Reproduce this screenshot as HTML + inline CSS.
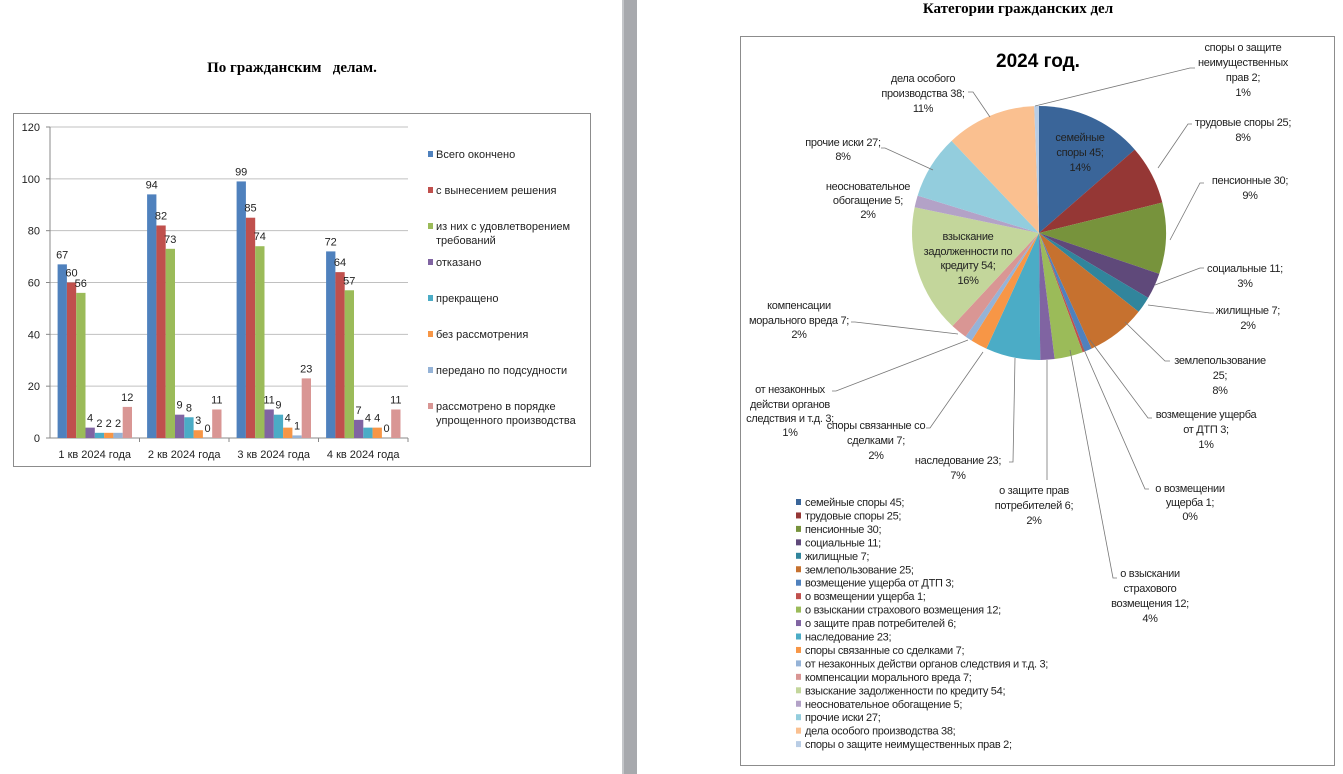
<!DOCTYPE html>
<html><head><meta charset="utf-8"><style>
html,body{margin:0;padding:0;background:#fff;width:1343px;height:774px;overflow:hidden}
svg{display:block}
text{font-family:"Liberation Sans","DejaVu Sans",sans-serif;font-size:11px;fill:#222}
.t{font-family:"Liberation Serif",serif;font-weight:bold;font-size:15px;fill:#000;white-space:pre}
.pl{font-size:11px;letter-spacing:-0.3px}
</style></head><body>
<svg id="s" width="1343" height="774" viewBox="0 0 1343 774" xmlns="http://www.w3.org/2000/svg">
<rect x="622" y="0" width="15" height="774" fill="#a7a9ad"/>
<rect x="622" y="0" width="2" height="774" fill="#c4c6c9"/>
<text class="t" x="292" y="72" text-anchor="middle" xml:space="preserve">По гражданским   делам.</text>
<text class="t" x="1018" y="13" text-anchor="middle">Категории гражданских дел</text>
<rect x="13.5" y="113.5" width="577" height="353" fill="#fff" stroke="#8c8c8c"/>
<g id="bars"></g>
<rect x="740.5" y="36.5" width="594" height="729" fill="#fff" stroke="#8c8c8c"/>
<text x="1038" y="67" text-anchor="middle" style="font-size:19px;font-weight:bold;fill:#000">2024 год.</text>
<g id="pie"></g>
<g id="pl" stroke="#777" stroke-width="0.8" fill="none">
<polyline points="1035,106 1190,68 1195,68"/>
<polyline points="990,117 973,92 968,92"/>
<polyline points="1158,168 1188,124 1192,124"/>
<polyline points="1170,240 1200,183 1204,183"/>
<polyline points="1155,285 1200,268 1204,268"/>
<polyline points="1148,305 1210,313 1214,313"/>
<polyline points="1125,322 1165,361 1170,361"/>
<polyline points="1090,340 1148,418 1152,418"/>
<polyline points="1082,345 1145,489 1149,489"/>
<polyline points="1070,350 1113,578 1117,578"/>
<polyline points="1047,360 1047,480"/>
<polyline points="1015,358 1013,462 1009,462"/>
<polyline points="983,352 930,428 926,428"/>
<polyline points="968,340 836,391 832,391"/>
<polyline points="958,334 855,322 851,322"/>
<polyline points="933,170 885,148 881,148"/>
</g>
<g id="labs" text-anchor="middle" class="pl"></g>
<g id="leg"></g>
</svg>
<script>
var NS="http://www.w3.org/2000/svg";
function el(p,t,a,txt){var e=document.createElementNS(NS,t);for(var k in a)e.setAttribute(k,a[k]);if(txt!=null)e.textContent=txt;p.appendChild(e);return e;}
var g=document.getElementById('bars');
function Y(v){return 438-v*311/120;}
for(var v=0;v<=120;v+=20){
  if(v>0)el(g,'line',{x1:50,x2:408,y1:Y(v),y2:Y(v),stroke:'#c0c0c0','stroke-width':1});
  el(g,'text',{x:40,y:Y(v)+4,'text-anchor':'end'},String(v));
  el(g,'line',{x1:46,x2:50,y1:Y(v),y2:Y(v),stroke:'#888'});
}
el(g,'line',{x1:50,x2:50,y1:Y(120),y2:438,stroke:'#888'});
el(g,'line',{x1:50,x2:408,y1:438,y2:438,stroke:'#888'});
var bc=['#4F81BD','#C0504D','#9BBB59','#8064A2','#4BACC6','#F79646','#95B3D7','#D99694'];
var data=[[67,60,56,4,2,2,2,12],[94,82,73,9,8,3,0,11],[99,85,74,11,9,4,1,23],[72,64,57,7,4,4,0,11]];
var gl=['1 кв 2024 года','2 кв 2024 года','3 кв 2024 года','4 кв 2024 года'];
for(var i=0;i<4;i++){
  var gx=50+i*89.5;
  el(g,'line',{x1:gx+89.5,x2:gx+89.5,y1:438,y2:442,stroke:'#888'});
  el(g,'text',{x:gx+44.7,y:458,'text-anchor':'middle'},gl[i]);
  for(var j=0;j<8;j++){
    var x=gx+7.6+j*9.3,v=data[i][j];
    if(v>0)el(g,'rect',{x:x,y:Y(v),width:9.3,height:438-Y(v),fill:bc[j]});
    el(g,'text',{x:x+4.6,y:Y(v)-6,'text-anchor':'middle'},String(v));
  }
}
var lg=[['Всего окончено'],['с вынесением решения'],['из них с удовлетворением','требований'],['отказано'],['прекращено'],['без рассмотрения'],['передано по подсудности'],['рассмотрено в порядке','упрощенного производства']];
var ly=[158,194,230,266,302,338,374,410];
for(var i=0;i<8;i++){
  el(g,'rect',{x:428,y:ly[i]-7,width:5,height:6,fill:bc[i]});
  for(var k=0;k<lg[i].length;k++)el(g,'text',{x:436,y:ly[i]+k*14},lg[i][k]);
}
var pv=[45,25,30,11,7,25,3,1,12,6,23,7,3,7,54,5,27,38,2];
var pc=['#3A6599','#953735','#77933C','#5F497A','#31859C','#C6712F','#4F81BD','#C0504D','#9BBB59','#8064A2','#4BACC6','#F79646','#95B3D7','#D99694','#C3D69B','#B3A2C7','#93CDDD','#FAC090','#B9CDE5'];
var pn=['семейные споры 45;','трудовые споры 25;','пенсионные 30;','социальные 11;','жилищные 7;','землепользование 25;','возмещение ущерба от ДТП 3;','о возмещении ущерба  1;','о взыскании страхового возмещения 12;','о защите прав потребителей 6;','наследование 23;','споры связанные со сделками 7;','от незаконных действи  органов следствия и т.д. 3;','компенсации морального вреда 7;','взыскание задолженности по кредиту 54;','неосновательное обогащение 5;','прочие иски 27;','дела особого производства 38;','споры о защите неимущественных прав 2;'];
var tot=0;pv.forEach(function(v){tot+=v;});
var pg=document.getElementById('pie'),cx=1039,cy=233,r=127,a=-Math.PI/2;
for(var i=0;i<pv.length;i++){
  var b=a+pv[i]/tot*2*Math.PI;
  var x1=cx+r*Math.cos(a),y1=cy+r*Math.sin(a),x2=cx+r*Math.cos(b),y2=cy+r*Math.sin(b);
  el(pg,'path',{d:'M'+cx+','+cy+' L'+x1+','+y1+' A'+r+','+r+' 0 '+((b-a)>Math.PI?1:0)+',1 '+x2+','+y2+' Z',fill:pc[i]});
  a=b;
}
var labs=[[1243,[51,66,81,96],['споры о защите','неимущественных','прав 2;','1%']],
[923,[82,97,112],['дела особого','производства 38;','11%']],
[1080,[141,156,171],['семейные','споры 45;','14%']],
[1243,[126,141],['трудовые споры 25;','8%']],
[1250,[184,199],['пенсионные 30;','9%']],
[1245,[272,287],['социальные 11;','3%']],
[1248,[314,329],['жилищные 7;','2%']],
[1220,[364,379,394],['землепользование','25;','8%']],
[1206,[418,433,448],['возмещение ущерба','от ДТП 3;','1%']],
[1190,[492,506,520],['о возмещении','ущерба  1;','0%']],
[1150,[577,592,607,622],['о взыскании','страхового','возмещения 12;','4%']],
[1034,[494,509,524],['о защите прав','потребителей 6;','2%']],
[958,[464,479],['наследование 23;','7%']],
[876,[429,444,459],['споры связанные со','сделками 7;','2%']],
[790,[393,408,422,436],['от незаконных','действи  органов','следствия и т.д. 3;','1%']],
[799,[309,324,338],['компенсации','морального вреда 7;','2%']],
[968,[240,255,269,284],['взыскание','задолженности по','кредиту 54;','16%']],
[868,[190,204,218],['неосновательное','обогащение 5;','2%']],
[843,[146,160],['прочие иски 27;','8%']]];
var lb=document.getElementById('labs');
labs.forEach(function(L){for(var k=0;k<L[2].length;k++)el(lb,'text',{x:L[0],y:L[1][k]},L[2][k]);});
var lgp=document.getElementById('leg');
for(var i=0;i<pn.length;i++){
  var y=506+i*13.45;
  el(lgp,'rect',{x:796,y:y-7,width:5,height:6,fill:pc[i]});
  el(lgp,'text',{x:805,y:y,'class':'pl'},pn[i]);
}
</script>
</body></html>
